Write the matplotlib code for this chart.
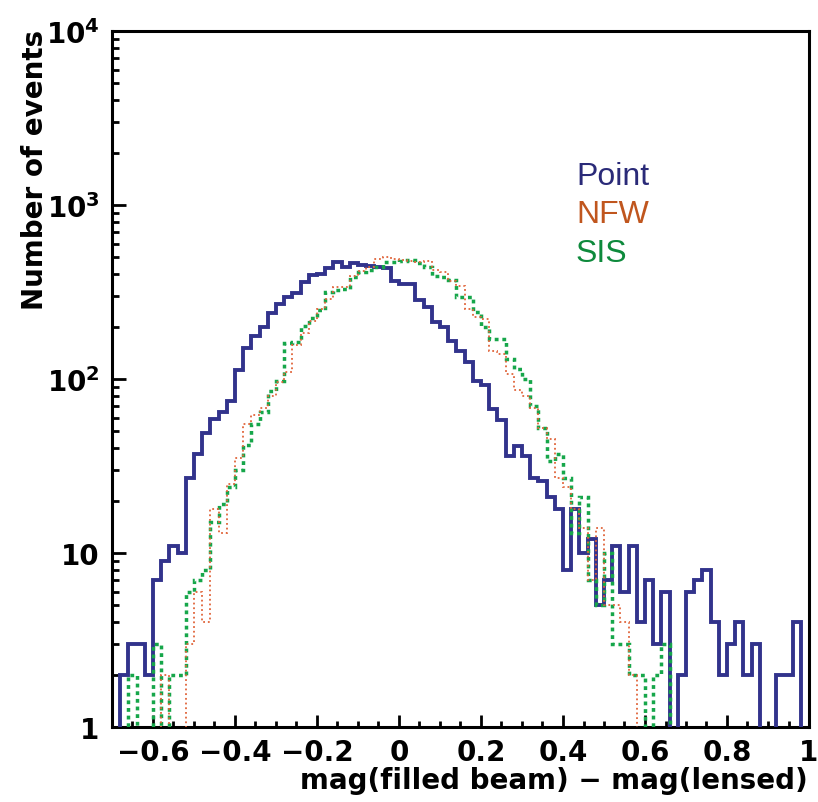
import numpy as np
import matplotlib
matplotlib.use("Agg")
import matplotlib.pyplot as plt
from matplotlib.ticker import FixedLocator, LogLocator, MultipleLocator, NullFormatter

# ---------------- data ----------------
x_min, x_max, n_bins = -0.7, 1.0, 85

point_counts = [0, 2, 3, 3, 2, 7, 9, 11, 10, 27,
                37, 49, 59, 65, 75, 112, 151, 176, 198, 239,
                270, 295, 312, 359, 396, 400, 434, 470, 440, 462,
                450, 445, 440, 434, 367, 350, 350, 284, 258, 212,
                198, 165, 144, 125, 98, 92, 67, 58, 36, 41,
                36, 27, 26, 21, 18, 8, 18, 10, 12, 5,
                7, 11, 6, 11, 4, 7, 3, 6, 0, 2,
                6, 7, 8, 4, 2, 3, 4, 2, 3, 0,
                0, 2, 2, 4, 0]

nfw_counts = [0, 0, 0, 0, 0, 0, 2, 0, 0, 3,
              6, 4, 18, 13, 25, 35, 55, 62, 68, 80,
              96, 109, 157, 185, 216, 253, 288, 336, 336, 392,
              419, 438, 489, 500, 489, 485, 475, 469, 479, 423,
              410, 367, 344, 253, 227, 221, 145, 139, 107, 86,
              80, 68, 52, 45, 27, 24, 18, 14, 7, 14,
              5, 5, 4, 2, 0, 0, 0, 0, 0, 0,
              0, 0, 0, 0, 0, 0, 0, 0, 0, 0,
              0, 0, 0, 0, 0]

sis_counts = [0, 0, 2, 0, 0, 3, 0, 2, 2, 6,
              7, 8, 15, 19, 24, 30, 42, 55, 65, 85,
              97, 160, 163, 202, 224, 249, 315, 325, 329, 384,
              410, 423, 438, 469, 469, 475, 482, 462, 438, 392,
              384, 370, 295, 295, 242, 198, 170, 170, 130, 114,
              100, 70, 52, 34, 37, 27, 13, 21, 7, 5,
              10, 3, 3, 2, 2, 0, 2, 3, 0, 0,
              0, 0, 0, 0, 0, 0, 0, 0, 0, 0,
              0, 0, 0, 0, 0]

series_names = ["Point", "NFW", "SIS"]
x_tick_values = [-0.6, -0.4, -0.2, 0.0, 0.2, 0.4, 0.6, 0.8, 1.0]
x_tick_labels = ["\u22120.6", "\u22120.4", "\u22120.2", "0", "0.2", "0.4", "0.6", "0.8", "1"]
y_tick_values = [1, 10, 100, 1000, 10000]
y_tick_labels = ["1", "10", r"$10^{2}$", r"$10^{3}$", r"$10^{4}$"]
x_title = "mag(filled beam) \u2212 mag(lensed)"
y_title = "Number of events"

# ---------------- style ----------------
plt.rcParams["font.family"] = ["DejaVu Sans"]
plt.rcParams["mathtext.default"] = "regular"

W, H = 818, 803
fig = plt.figure(figsize=(W / 100, H / 100), dpi=100)
L, R, T, B = 112, 809, 32, 728
ax = fig.add_axes([L / W, 1 - B / H, (R - L) / W, (B - T) / H])

edges = np.linspace(x_min, x_max, n_bins + 1)

col_point = "#32338C"
col_nfw = "#E0643A"
col_sis = "#16A64A"

def plot_vals(v):
    v = np.asarray(v, dtype=float)
    return np.where(v > 0, v, 0.3)

ax.stairs(plot_vals(point_counts), edges, baseline=0.3, color=col_point,
          lw=2.8, zorder=3)
ax.stairs(plot_vals(sis_counts), edges, baseline=0.3, color=col_sis,
          lw=2.5, linestyle=(0, (1.1, 1.1)), zorder=4)
ax.stairs(plot_vals(nfw_counts), edges, baseline=0.3, color=col_nfw,
          lw=1.3, linestyle=(0, (1.0, 1.6)), zorder=5)

ax.set_yscale("log")
ax.set_xlim(x_min, x_max)
ax.set_ylim(1, 10000)

for s in ax.spines.values():
    s.set_linewidth(2.2)
    s.set_color("black")

ax.xaxis.set_major_locator(FixedLocator(x_tick_values))
ax.set_xticklabels(x_tick_labels)
ax.xaxis.set_minor_locator(MultipleLocator(0.05))
ax.yaxis.set_major_locator(FixedLocator(y_tick_values))
ax.set_yticklabels(y_tick_labels)
ax.yaxis.set_minor_locator(LogLocator(base=10, subs=np.arange(2, 10)))
ax.yaxis.set_minor_formatter(NullFormatter())

ax.tick_params(axis="both", which="both", direction="in", top=False, right=False,
               width=2.0, colors="black")
ax.tick_params(axis="x", which="major", length=9, pad=8, labelsize=20)
ax.tick_params(axis="x", which="minor", length=4.5)
ax.tick_params(axis="y", which="major", length=10, pad=9, labelsize=20)
ax.tick_params(axis="y", which="minor", length=5)
for lab in ax.get_xticklabels() + ax.get_yticklabels():
    lab.set_fontweight("bold")

fig.text(35 / W, 1 - 30 / H, y_title, rotation=90, ha="center", va="top",
         fontsize=20, fontweight="bold")
fig.text(808 / W, 1 - 781 / H, x_title, ha="right", va="center",
         fontsize=20, fontweight="bold")

legend_colors = ["#2A2A78", "#C0561E", "#0E8A3C"]
legend_y = [177, 215, 254]
for name, c, yy in zip(series_names, legend_colors, legend_y):
    fig.text(576 / W, 1 - yy / H, name, ha="left", va="center", fontsize=23,
             color=c, family=["Liberation Sans", "DejaVu Sans"])

fig.savefig("out.png", dpi=100, facecolor="white")
